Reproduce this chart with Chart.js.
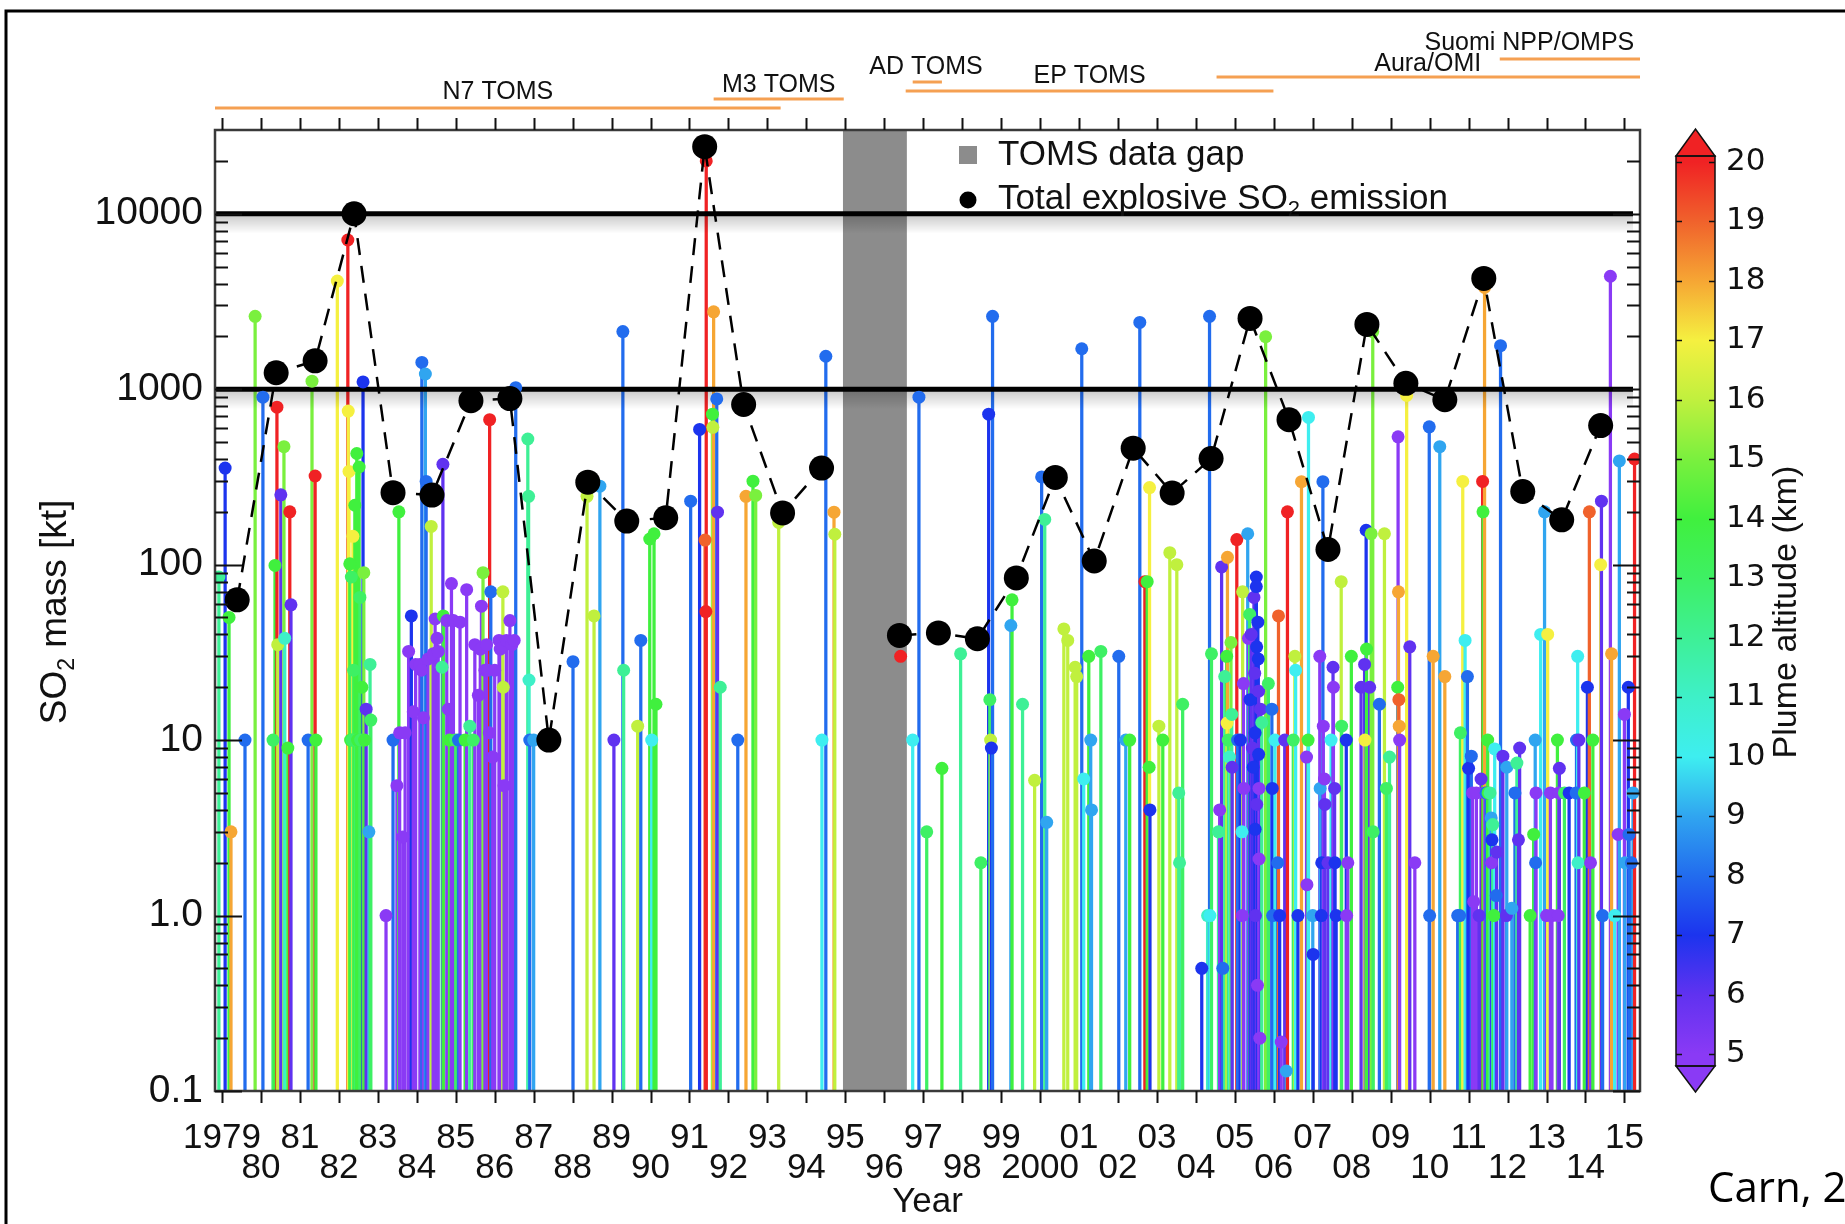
<!DOCTYPE html>
<html>
<head>
<meta charset="utf-8">
<title>Explosive volcanic SO2 emissions</title>
<script src="https://cdn.jsdelivr.net/npm/chart.js@4.4.1/dist/chart.umd.min.js"></script>
<style>
  html, body { margin: 0; padding: 0; background: #fff; }
  #wrap { position: relative; width: 1845px; height: 1224px; overflow: hidden; }
  #main { position: absolute; left: 0; top: 0; }
  #cbar { position: absolute; left: 1650px; top: 100px; }
</style>
</head>
<body>
<div id="wrap">
  <canvas id="main" width="1845" height="1224"></canvas>
  <canvas id="cbar" width="195" height="1010"></canvas>
</div>
<script>
// ===============================
// DATA
// ===============================

// annual total explosive SO2 (kt), 1995 = TOMS gap
const totalYears = [1979,1980,1981,1982,1983,1984,1985,1986,1987,1988,1989,1990,1991,1992,1993,1994,1995,
  1996,1997,1998,1999,2000,2001,2002,2003,2004,2005,2006,2007,2008,2009,2010,2011,2012,2013,2014];
const totalKt = [63,1240,1450,10000,257,249,860,884,10,295,177,185,24100,818,197,355,null,
  39.5,40.8,37.8,84,314,105,461,256,402,2530,670,122,2340,1080,870,4280,261,180,620];

// single eruptions: [decimal year, SO2 mass kt, plume altitude km]
const stems1979_1986 = [
  [1978.92,85,12],[1979.08,355,7],[1979.18,50,14],[1979.23,3,18],[1979.59,10,8],[1979.85,2600,15],
  [1980.05,900,8],[1980.31,10,13],[1980.36,99,14],[1980.41,790,20],[1980.43,35,16],[1980.51,250,6],
  [1980.59,470,15],[1980.61,38,11],[1980.69,9,14],[1980.74,200,20],[1980.77,59,6],
  [1981.21,10,8],[1981.31,1110,15],[1981.39,320,20],[1981.41,10,14],[1981.96,4130,17],
  [1982.23,7080,20],[1982.24,750,17],[1982.26,340,17],[1982.28,101,14],[1982.30,10,14],[1982.32,85,13],
  [1982.34,10,13],[1982.36,145,17],[1982.38,25,13],[1982.41,218,14],[1982.43,10,13],[1982.46,430,14],
  [1982.48,10,14],[1982.52,360,14],[1982.54,65,13],[1982.56,10,13],[1982.59,20,14],[1982.62,1100,7],
  [1982.64,90,15],[1982.66,10,14],[1982.70,15,6],[1982.77,3,9],[1982.80,27,12],[1982.82,13,13],
  [1983.21,1,5],[1983.39,10,8],[1983.49,5.5,5],[1983.54,200,14],[1983.56,11,5],[1983.64,2.8,5],
  [1983.70,11,5],[1983.79,32,5],[1983.86,51,7],[1983.91,14.5,5],[1983.97,27,5],[1984.08,27,5],
  [1984.12,25,5],[1984.13,1420,8],[1984.17,13.4,5],[1984.22,1220,9],[1984.24,298,8],[1984.29,29,5],
  [1984.37,165,16],[1984.42,31,5],[1984.47,49,5],[1984.52,38,5],[1984.55,32,5],[1984.65,26,12],
  [1984.67,373,6],[1984.68,51,14],[1984.77,48,5],[1984.81,15,5],[1984.84,10,14],[1984.89,78,5],
  [1984.94,48,5],[1985.00,10,13],[1985.07,10,8],[1985.11,47,5],[1985.24,10,14],[1985.28,72,5],
  [1985.36,12,12],[1985.45,10,13],[1985.49,35,5],[1985.58,18,5],[1985.63,33,5],[1985.66,58,5],
  [1985.70,90,15],[1985.75,25,5],[1985.79,35,5],[1985.82,25,5],[1985.86,11,5],[1985.87,670,20],
  [1985.90,70,8],[1985.95,8,5],[1986.00,25,5],[1986.11,37,5],[1986.14,33,5],[1986.21,70,16],
  [1986.22,20,16],[1986.24,5.5,5],[1986.30,37,5],[1986.39,48,5],[1986.44,35,5],[1986.50,37,5],
  [1986.54,1020,8],[1986.85,520,12],[1986.87,245,12],[1986.88,22,11],[1986.90,10,8],[1987.00,10,9]
];
const stems1987_1999 = [
  [1988.01,28,8],[1988.37,245,16],[1988.55,51,16],[1988.70,280,9],[1989.06,10,6],[1989.29,2130,8],
  [1989.31,25,12],[1989.67,12,16],[1989.75,37,8],[1989.98,140,14],[1990.03,10,10],[1990.09,150,14],
  [1990.14,16,14],[1991.03,230,8],[1991.26,590,7],[1991.40,138,19],[1991.42,54,20],[1991.43,20000,20],
  [1991.59,720,14],[1991.60,606,16],[1991.62,2760,18],[1991.70,880,8],[1991.72,199,6],[1991.79,20,12],
  [1992.24,10,8],[1992.45,245,18],[1992.63,299,14],[1992.70,248,15],[1993.29,174,16],
  [1994.40,10,10],[1994.50,1540,8],[1994.71,199,18],[1994.73,149,16],
  [1996.42,30,20],[1996.73,10,10],[1996.89,900,8],[1997.09,3,13],[1997.48,6.9,14],[1997.96,31,12],
  [1998.48,2,13],[1998.68,720,7],[1998.71,17,13],[1998.73,10,16],[1998.75,9,7],[1998.78,2600,8],
  [1999.25,45,9],[1999.28,63,14],[1999.55,16,12],[1999.86,5.9,16]
];
const stems2000_2006 = [
  [2000.04,316,8],[2000.12,181,12],[2000.17,3.4,9],[2000.61,43,16],[2000.71,37,16],[2000.90,26,16],
  [2000.94,23,16],[2001.07,1700,8],[2001.12,6,10],[2001.25,30,14],[2001.30,10,9],[2001.32,4,9],
  [2001.56,32,13],[2002.02,30,8],[2002.20,10,9],[2002.30,10,14],[2002.56,2400,8],[2002.69,80,20],
  [2002.75,80,14],[2002.80,7,14],[2002.81,275,17],[2002.82,4,7],[2003.05,12,16],[2003.15,10,14],
  [2003.33,117,16],[2003.51,100,16],[2003.56,5,12],[2003.58,2,12],[2003.66,16,13],
  [2004.15,0.5,7],[2004.30,1,11],[2004.35,2600,8],[2004.36,1,10],[2004.40,31,13],[2004.58,3,12],
  [2004.61,4,5],[2004.66,97,6],[2004.69,0.5,8],[2004.74,23,12],[2004.79,30,14],[2004.81,110,18],
  [2004.80,12.5,17],[2004.83,10,13],[2004.86,8,11],[2004.90,36,15],[2004.92,14,12],[2004.93,7,6],
  [2005.05,139,20],[2005.07,10,8],[2005.14,10,7],[2005.18,3,10],[2005.19,1,5],[2005.20,70,16],
  [2005.22,21,5],[2005.23,5.3,5],[2005.33,150,9],[2005.35,38,5],[2005.38,52,13],[2005.39,17,7],
  [2005.42,40,6],[2005.45,9,6],[2005.47,7,7],[2005.49,65,6],[2005.51,24,6],[2005.52,11,7],
  [2005.52,3.1,7],[2005.53,1,6],[2005.55,85,7],[2005.55,75,7],[2005.56,34,7],[2005.56,4.3,6],
  [2005.58,0.4,5],[2005.59,47,7],[2005.60,29,7],[2005.61,19,6],[2005.61,8.3,7],[2005.62,5.3,5],
  [2005.62,2.1,5],[2005.64,0.2,5],[2005.66,15,6],[2005.69,12.6,12],[2005.79,1990,15],[2005.86,21,13],
  [2005.95,15,8],[2005.96,5.3,7],[2005.97,1,8],[2006.03,10,10],[2006.10,2,8],[2006.12,51,19],
  [2006.15,1,7],[2006.19,0.19,5],[2006.28,10,6],[2006.32,0.13,9],[2006.35,200,20],[2006.50,10,13],
  [2006.54,30,16],[2006.56,25,10],[2006.62,1,7],[2006.71,297,18],[2006.84,8,5],[2006.85,1.5,5],
  [2006.88,10,14],[2006.89,690,10]
];
const stems2007_2015 = [
  [2007.00,1,9],[2007.01,0.6,7],[2007.18,30,5],[2007.19,5.3,9],[2007.22,1,7],[2007.23,2,7],
  [2007.26,297,8],[2007.27,12,5],[2007.30,6,5],[2007.31,4.3,6],[2007.39,2,6],[2007.47,10,10],
  [2007.52,26,6],[2007.53,20,5],[2007.56,5.3,6],[2007.57,2,7],[2007.60,1,7],[2007.73,80,16],
  [2007.74,12,13],[2007.86,10,7],[2007.87,1,5],[2007.90,2,5],[2007.99,30,14],
  [2008.24,20,6],[2008.33,27,6],[2008.34,10,17],[2008.37,157,7],[2008.38,33,14],[2008.46,20,6],
  [2008.50,150,15],[2008.54,2130,15],[2008.55,3,13],[2008.71,16,8],[2008.84,150,16],[2008.89,5.3,13],
  [2008.97,8,12],[2009.18,20,14],[2009.19,535,5],[2009.20,70,18],[2009.21,17,19],[2009.22,12,18],
  [2009.23,10,5],[2009.41,920,17],[2009.49,34,6],[2009.62,2,5],[2009.99,610,8],[2010.00,1,8],
  [2010.09,30,18],[2010.26,470,9],[2010.39,23,18],[2010.72,1,8],[2010.77,1,8],[2010.79,11,13],
  [2010.85,298,17],[2010.91,37,10],[2010.97,23,8],[2011.00,6.9,7],[2011.07,8.1,8],[2011.10,5,5],
  [2011.13,1.2,5],[2011.20,5,5],[2011.27,1,6],[2011.32,6,6],[2011.36,298,20],[2011.37,200,14],
  [2011.41,3800,18],[2011.42,5,5],[2011.45,5,8],[2011.49,10,14],[2011.50,5,14],[2011.55,5,12],
  [2011.58,3.6,9],[2011.59,2,5],[2011.60,2.7,7],[2011.62,3.3,12],[2011.65,1,14],[2011.67,8.9,10],
  [2011.71,1.3,8],[2011.72,2.3,6],[2011.82,1770,8],[2011.88,8.1,6],[2011.97,1,6],[2011.98,7,9],
  [2012.11,1.1,9],[2012.19,5,8],[2012.24,7.4,12],[2012.28,2.7,6],[2012.31,9,6],[2012.58,1,14],
  [2012.67,2.9,14],[2012.71,10,9],[2012.72,2,8],[2012.73,5,5],[2012.85,40,10],[2012.95,200,9],
  [2013.00,1,5],[2013.03,40,17],[2013.10,5,5],[2013.14,1,5],[2013.28,10,14],[2013.30,1,5],
  [2013.32,5,5],[2013.33,6.9,6],[2013.46,5,13],[2013.58,5,7],[2013.76,5,8],[2013.77,10,8],
  [2013.80,30,10],[2013.81,2,11],[2013.83,10,6],[2013.97,5,14],[2014.05,20,7],[2014.10,200,19],
  [2014.13,2,5],[2014.19,10,14],[2014.39,100,17],[2014.41,230,6],[2014.44,1,8],[2014.64,4400,5],
  [2014.67,31,18],[2014.75,1,10],[2014.84,2.9,5],[2014.87,390,9],[2015.00,14,5],[2015.01,2,9],
  [2015.10,20,7],[2015.12,2.9,8],[2015.18,2,8],[2015.22,5,9],[2015.26,400,20]
];

// y axis labels, x axis years
const massTicks = [0.1, 1, 10, 100, 1000, 10000];
const massTickLabels = ['0.1', '1.0', '10', '100', '1000', '10000'];
const yearTicks = [];
for (let yr = 1979; yr <= 2015; yr++) yearTicks.push(yr);

// colour bar
const altTicks = [5,6,7,8,9,10,11,12,13,14,15,16,17,18,19,20];

// satellite missions (years)
const missionNames = ['N7 TOMS', 'M3 TOMS', 'AD TOMS', 'EP TOMS', 'Aura/OMI', 'Suomi NPP/OMPS'];
const missionStart = [1978.82, 1991.62, 1996.73, 1996.55, 2004.53, 2011.8];
const missionEnd = [1993.34, 1994.96, 1997.48, 2005.99, 2015.4, 2015.4];

// TOMS data gap
const gapStart = 1994.94;
const gapEnd = 1996.58;

// ===============================
// COLOUR MAP (plume altitude)
// ===============================

const cmapRGB = [
  [138,58,245],[96,50,240],[28,52,238],[34,108,238],[48,165,240],[62,238,240],[62,240,200],[62,240,150],
  [62,240,100],[64,240,62],[122,240,62],[192,240,62],[245,240,64],[246,166,52],[240,98,44],[240,34,36]
];

function altColor(km){
  const t = Math.min(Math.max(km, 5), 20) - 5;
  const i = Math.min(Math.floor(t), 14);
  const f = t - i;
  const a = cmapRGB[i], b = cmapRGB[i + 1];
  const c = a.map((v, k) => Math.round(v + (b[k] - v) * f));
  return `rgb(${c[0]},${c[1]},${c[2]})`;
}

const stems = [...stems1979_1986, ...stems1987_1999, ...stems2000_2006, ...stems2007_2015];
const stemColors = stems.map(s => altColor(s[2]));

// ===============================
// HELPERS
// ===============================

const FONT = "'Liberation Sans', Arial, Helvetica, sans-serif";

// text with a subscript part; parts = [[text, isSub], ...]
function partsWidth(ctx, parts, size){
  let w = 0;
  parts.forEach(p => {
    ctx.font = `${p[1] ? Math.round(size * 0.62) : size}px ${FONT}`;
    w += ctx.measureText(p[0]).width;
  });
  return w;
}
function drawParts(ctx, parts, x, y, size){
  let cx = x;
  ctx.textAlign = 'left';
  ctx.textBaseline = 'middle';
  parts.forEach(p => {
    ctx.font = `${p[1] ? Math.round(size * 0.62) : size}px ${FONT}`;
    ctx.fillText(p[0], cx, p[1] ? y + size * 0.32 : y);
    cx += ctx.measureText(p[0]).width;
  });
}

// ===============================
// DECORATIONS MAIN CHART
// ===============================

const decor = {
  id: 'decor',
  beforeDatasetDraw(chart, args){
    if(args.index !== 1) return; // right before stem dots
    const {ctx, chartArea: a, scales: {x, y}} = chart;
    ctx.save();
    // TOMS data gap
    const g0 = x.getPixelForValue(gapStart), g1 = x.getPixelForValue(gapEnd);
    ctx.fillStyle = '#8c8c8c';
    ctx.fillRect(g0, a.top, g1 - g0, a.bottom - a.top);
    // 1000 and 10000 kt lines with soft shadow
    [1000, 10000].forEach(v => {
      const py = y.getPixelForValue(v);
      const grad = ctx.createLinearGradient(0, py, 0, py + 20);
      grad.addColorStop(0, 'rgba(0,0,0,0.22)');
      grad.addColorStop(1, 'rgba(0,0,0,0)');
      ctx.fillStyle = grad;
      ctx.fillRect(a.left, py, a.right - a.left - 7, 20);
      ctx.strokeStyle = '#000';
      ctx.lineWidth = 5;
      ctx.beginPath();
      ctx.moveTo(a.left, py);
      ctx.lineTo(a.right - 7, py);
      ctx.stroke();
    });
    ctx.restore();
  },
  afterDraw(chart){
    const {ctx, chartArea: a, scales: {x, y}} = chart;
    ctx.save();

    // frame
    ctx.strokeStyle = '#3a3a3a';
    ctx.lineWidth = 2.5;
    ctx.strokeRect(a.left, a.top, a.right - a.left, a.bottom - a.top);

    // y ticks inside, both sides
    ctx.strokeStyle = '#111';
    ctx.lineWidth = 2;
    const yTick = (v, len) => {
      const py = Math.round(y.getPixelForValue(v)) + 0.5;
      ctx.beginPath();
      ctx.moveTo(a.left, py); ctx.lineTo(a.left + len, py);
      ctx.moveTo(a.right, py); ctx.lineTo(a.right - len, py);
      ctx.stroke();
    };
    massTicks.forEach(v => yTick(v, 27));
    for(let k = -1; k <= 4; k++){
      for(let m = 2; m <= 9; m++){
        const v = m * Math.pow(10, k);
        if(v < y.max) yTick(v, 13);
      }
    }

    // x ticks outside, top and bottom
    yearTicks.forEach(yr => {
      const px = Math.round(x.getPixelForValue(yr)) + 0.5;
      ctx.beginPath();
      ctx.moveTo(px, a.top - 12); ctx.lineTo(px, a.top);
      ctx.moveTo(px, a.bottom); ctx.lineTo(px, a.bottom + 12);
      ctx.stroke();
    });

    // axis titles
    ctx.fillStyle = '#111';
    ctx.font = `35px ${FONT}`;
    ctx.textAlign = 'center';
    ctx.textBaseline = 'middle';
    ctx.fillText('Year', (a.left + a.right) / 2, 1202);

    const yTitle = [['SO', false], ['2', true], [' mass [kt]', false]];
    ctx.save();
    ctx.translate(56, 612);
    ctx.rotate(-Math.PI / 2);
    drawParts(ctx, yTitle, -partsWidth(ctx, yTitle, 37) / 2, 0, 37);
    ctx.restore();

    // legend
    ctx.fillStyle = '#8c8c8c';
    ctx.fillRect(959, 146, 18, 18);
    ctx.fillStyle = '#000';
    ctx.beginPath();
    ctx.arc(968, 200, 8.5, 0, Math.PI * 2);
    ctx.fill();
    ctx.fillStyle = '#111';
    drawParts(ctx, [['TOMS data gap', false]], 998, 155, 35);
    drawParts(ctx, [['Total explosive SO', false], ['2', true], [' emission', false]], 998, 199, 35);

    // satellite missions
    const lineY = [108, 99, 82, 91, 77, 59];
    const labelYear = [1986.08, 1993.29, 1997.07, 2001.27, 2009.95, 2012.56];
    const labelY = [92, 85, 67, 76, 64, 43];
    ctx.strokeStyle = '#f5a052';
    ctx.lineWidth = 3;
    missionNames.forEach((name, i) => {
      ctx.beginPath();
      ctx.moveTo(x.getPixelForValue(missionStart[i]), lineY[i]);
      ctx.lineTo(x.getPixelForValue(missionEnd[i]), lineY[i]);
      ctx.stroke();
      ctx.fillStyle = '#111';
      ctx.font = `25px ${FONT}`;
      ctx.textAlign = 'center';
      ctx.textBaseline = 'middle';
      ctx.fillText(name, x.getPixelForValue(labelYear[i]), labelY[i]);
    });

    // credit, cut by the page edge
    ctx.fillStyle = '#000';
    ctx.font = "42px 'Open Sans', 'Noto Sans', sans-serif";
    ctx.textAlign = 'left';
    ctx.textBaseline = 'alphabetic';
    ctx.fillText('Carn, 2016', 1708, 1202);

    // outer border (top and left visible)
    ctx.strokeStyle = '#000';
    ctx.lineWidth = 3;
    ctx.beginPath();
    ctx.moveTo(6, 1224); ctx.lineTo(6, 11); ctx.lineTo(1845, 11);
    ctx.stroke();

    ctx.restore();
  }
};

// ===============================
// MAIN CHART
// ===============================

Chart.defaults.font.family = FONT;

const mainChart = new Chart(document.getElementById('main'), {
  type: 'bar',
  data: {
    datasets: [
      {
        type: 'bar',
        label: 'eruptions',
        data: stems.map(s => ({x: s[0], y: [0.1, s[1]]})),
        backgroundColor: stemColors,
        borderWidth: 0,
        barThickness: 2.6,
        order: 3
      },
      {
        type: 'scatter',
        label: 'eruption mass',
        data: stems.map(s => ({x: s[0], y: s[1]})),
        pointBackgroundColor: stemColors,
        pointBorderWidth: 0,
        pointRadius: 6.5,
        order: 2
      },
      {
        type: 'line',
        label: 'Total explosive SO2 emission',
        // plotted near mid-year
        data: totalKt.map((v, i) => ({x: totalYears[i] + 0.39, y: v})),
        borderColor: '#000',
        borderWidth: 2.5,
        borderDash: [17, 11],
        spanGaps: false,
        pointRadius: 12.5,
        pointBackgroundColor: '#000',
        pointBorderWidth: 0,
        order: 1
      }
    ]
  },
  options: {
    responsive: false,
    animation: false,
    events: [],
    layout: { padding: { left: 0, top: 130, right: 205, bottom: 0 } },
    plugins: { legend: { display: false }, tooltip: { enabled: false } },
    scales: {
      x: {
        type: 'linear',
        min: 1978.82,
        max: 2015.4,
        offset: false,
        grid: { display: false, offset: false },
        border: { display: false },
        afterBuildTicks: s => { s.ticks = yearTicks.map(v => ({value: v})); },
        afterFit: s => { s.height = 133; },
        ticks: {
          autoSkip: false,
          maxRotation: 0,
          padding: 24,
          color: '#111',
          font: { size: 35, lineHeight: 30 / 35 },
          callback: v => {
            const yr = Math.round(v);
            const txt = (yr === 1979 || yr === 2000) ? String(yr) : String(yr % 100).padStart(2, '0');
            return yr % 2 === 1 ? [txt, ''] : ['', txt];
          }
        }
      },
      y: {
        type: 'logarithmic',
        min: 0.1,
        max: 30000,
        grid: { display: false },
        border: { display: false },
        afterBuildTicks: s => { s.ticks = massTicks.map(v => ({value: v, major: true})); },
        afterFit: s => { s.width = 215; },
        ticks: {
          padding: 4,
          color: '#111',
          font: { size: 39 },
          callback: v => massTickLabels[massTicks.indexOf(v)] ?? ''
        }
      }
    }
  },
  plugins: [decor]
});

// ===============================
// COLOUR BAR
// ===============================

const cbLow = 4.8, cbHigh = 20.1;

function cbGradient(chart){
  const area = chart.chartArea;
  if(!area) return '#888';
  const ys = chart.scales.y;
  const g = chart.ctx.createLinearGradient(0, ys.getPixelForValue(cbLow), 0, ys.getPixelForValue(cbHigh));
  g.addColorStop(0, altColor(cbLow));
  altTicks.forEach(km => g.addColorStop((km - cbLow) / (cbHigh - cbLow), altColor(km)));
  g.addColorStop(1, altColor(cbHigh));
  return g;
}

const cbDecor = {
  id: 'cbDecor',
  afterDraw(chart){
    const {ctx, chartArea: a, scales: {y}} = chart;
    const mid = (a.left + a.right) / 2;
    ctx.save();
    ctx.strokeStyle = '#111';
    ctx.lineWidth = 1.5;
    // end triangles
    ctx.fillStyle = altColor(20);
    ctx.beginPath();
    ctx.moveTo(a.left, a.top); ctx.lineTo(mid, a.top - 27); ctx.lineTo(a.right, a.top); ctx.closePath();
    ctx.fill(); ctx.stroke();
    ctx.fillStyle = altColor(5);
    ctx.beginPath();
    ctx.moveTo(a.left, a.bottom); ctx.lineTo(mid, a.bottom + 26); ctx.lineTo(a.right, a.bottom); ctx.closePath();
    ctx.fill(); ctx.stroke();
    ctx.strokeRect(a.left, a.top, a.right - a.left, a.bottom - a.top);
    // ticks
    ctx.lineWidth = 1.5;
    altTicks.forEach(km => {
      const py = Math.round(y.getPixelForValue(km)) + 0.5;
      ctx.beginPath();
      ctx.moveTo(a.left, py); ctx.lineTo(a.left + 6, py);
      ctx.moveTo(a.right, py); ctx.lineTo(a.right - 6, py);
      ctx.stroke();
    });
    // title
    ctx.fillStyle = '#111';
    ctx.font = `34px ${FONT}`;
    ctx.textAlign = 'center';
    ctx.textBaseline = 'middle';
    ctx.translate(137, 512);
    ctx.rotate(-Math.PI / 2);
    ctx.fillText('Plume altitude (km)', 0, 0);
    ctx.restore();
  }
};

const cbChart = new Chart(document.getElementById('cbar'), {
  type: 'bar',
  data: {
    labels: [''],
    datasets: [{
      data: [[cbLow, cbHigh]],
      backgroundColor: ctx => cbGradient(ctx.chart),
      borderWidth: 0,
      barPercentage: 1,
      categoryPercentage: 1
    }]
  },
  options: {
    responsive: false,
    animation: false,
    events: [],
    layout: { padding: { left: 26, top: 56, bottom: 44, right: 0 } },
    plugins: { legend: { display: false }, tooltip: { enabled: false } },
    scales: {
      x: { display: false },
      y: {
        position: 'right',
        min: cbLow,
        max: cbHigh,
        grid: { display: false },
        border: { display: false },
        afterBuildTicks: s => { s.ticks = altTicks.map(v => ({value: v})); },
        afterFit: s => { s.width = 130; },
        ticks: { padding: 3, color: '#111', font: { family: "'DejaVu Sans', sans-serif", size: 31 } }
      }
    }
  },
  plugins: [cbDecor]
});
</script>
</body>
</html>
